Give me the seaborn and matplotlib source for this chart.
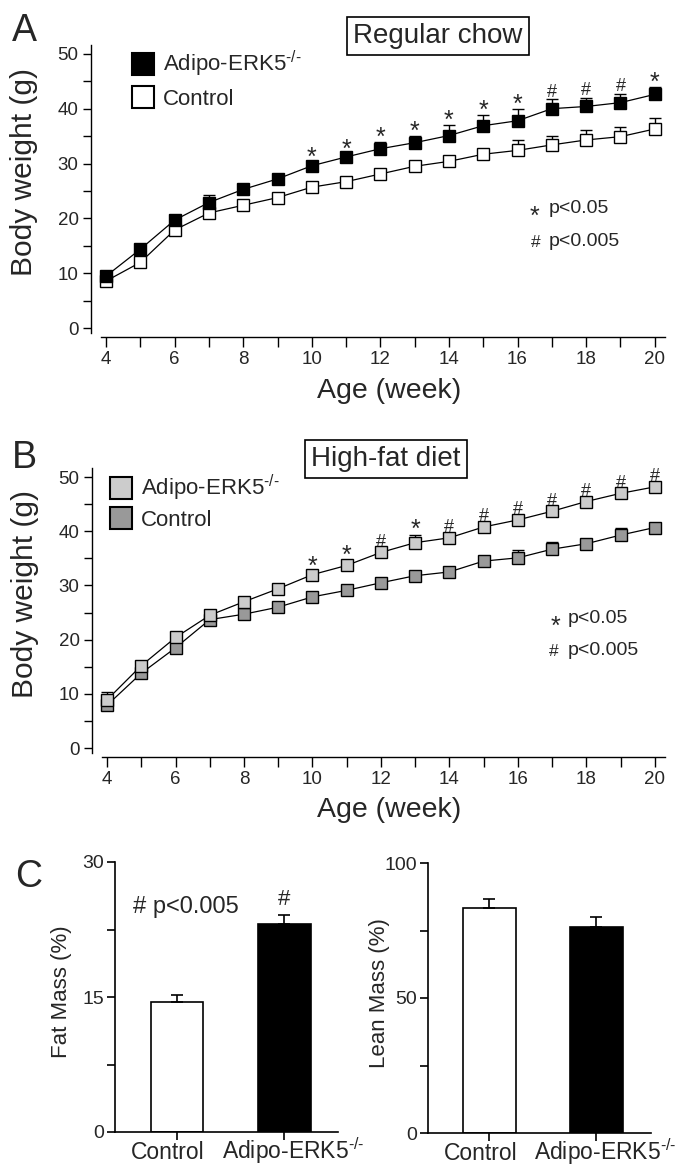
import numpy as np
import pandas as pd
import matplotlib
matplotlib.use("Agg")
import matplotlib.pyplot as plt
from matplotlib.lines import Line2D
from matplotlib.ticker import MultipleLocator
from matplotlib.transforms import ScaledTranslation
import seaborn as sns

# style: plain white, ticks out, Helvetica-like font
sns.set_style("ticks")
plt.rcParams['font.family'] = ['Liberation Sans', 'DejaVu Sans']
plt.rcParams['mathtext.fontset'] = 'custom'
plt.rcParams['mathtext.rm'] = 'Liberation Sans'
plt.rcParams['mathtext.it'] = 'Liberation Sans:italic'
plt.rcParams['mathtext.bf'] = 'Liberation Sans:bold'

# data
weeks = list(range(4, 21))

chow_ko = [9.5, 14.4, 19.7, 22.9, 25.3, 27.2, 29.6, 31.2, 32.7, 33.8, 35.1, 36.9, 37.8, 40.0, 40.4, 41.1, 42.6]
chow_ko_err = [0.3, 0.4, 0.4, 1.3, 0.4, 0.4, 0.6, 0.6, 1.3, 1.2, 2.0, 1.9, 2.2, 1.7, 1.5, 1.6, 1.4]
chow_ctrl = [8.6, 12.0, 17.9, 21.0, 22.4, 23.8, 25.7, 26.7, 28.1, 29.5, 30.4, 31.7, 32.4, 33.4, 34.3, 34.9, 36.3]
chow_ctrl_err = [0.3, 0.4, 0.4, 0.5, 0.4, 0.4, 0.4, 0.5, 0.5, 0.5, 0.5, 0.6, 1.9, 1.7, 1.9, 1.8, 2.0]
chow_sig = ['', '', '', '', '', '', '*', '*', '*', '*', '*', '*', '*', '#', '#', '#', '*']

hfd_ko = [8.9, 15.2, 20.4, 24.5, 27.0, 29.4, 32.0, 33.7, 36.1, 37.9, 38.8, 40.8, 42.1, 43.7, 45.5, 47.0, 48.2]
hfd_ko_err = [1.5, 0.5, 0.5, 0.4, 0.5, 0.4, 0.6, 1.0, 0.5, 1.5, 0.5, 0.5, 0.5, 0.5, 0.5, 0.5, 0.5]
hfd_ctrl = [7.9, 13.8, 18.5, 23.7, 24.7, 26.0, 27.9, 29.1, 30.5, 31.8, 32.5, 34.5, 35.1, 36.7, 37.7, 39.3, 40.7]
hfd_ctrl_err = [0.4, 0.4, 0.5, 0.5, 0.5, 0.5, 0.5, 0.5, 0.5, 0.5, 0.5, 0.5, 1.4, 1.3, 0.5, 1.4, 0.5]
hfd_sig = ['', '', '', '', '', '', '*', '*', '#', '*', '#', '#', '#', '#', '#', '#', '#']

groups = ['Control', 'Adipo-ERK5']
fat_mass = [14.4, 23.1]
fat_err = [0.8, 1.0]
lean_mass = [83.3, 76.2]
lean_err = [3.4, 3.8]

ko_label = r'Adipo-ERK5$^{\text{-/-}}$'

W, H = 681, 1166
fig = plt.figure(figsize=(W / 100, H / 100), dpi=100)


def px(x, y):
    # pixel position of the reference -> figure fraction
    return x / W, 1 - y / H


def pvalue_key(star_xy, hash_xy, text_x):
    # "* p<0.05" / "# p<0.005" key, positions are baselines in reference pixels
    fig.text(*px(star_xy[0], star_xy[1] + 11), '*', ha='left', va='baseline', fontsize=18)
    fig.text(*px(text_x, star_xy[1]), 'p<0.05', ha='left', va='baseline', fontsize=14)
    fig.text(*px(hash_xy[0], hash_xy[1]), '#', ha='left', va='baseline', fontsize=12.5)
    fig.text(*px(text_x, hash_xy[1] - 1), 'p<0.005', ha='left', va='baseline', fontsize=14)


def growth_panel(rect, ko, ko_err, ctrl, ctrl_err, sig, ko_face, ctrl_face):
    ax = fig.add_axes(rect)
    df = pd.DataFrame({'week': weeks, 'ko': ko, 'ctrl': ctrl})
    for col, err, face, z in [('ctrl', ctrl_err, ctrl_face, 3), ('ko', ko_err, ko_face, 4)]:
        ax.errorbar(weeks, df[col], yerr=[np.zeros(len(err)), err], fmt='none',
                    ecolor='black', elinewidth=1, capsize=4.5, capthick=1, zorder=z - 1)
        sns.lineplot(data=df, x='week', y=col, ax=ax, color='black', linewidth=0.9,
                     marker='s', markersize=8, markerfacecolor=face,
                     markeredgecolor='black', markeredgewidth=1, zorder=z)
    for w, v, e, s in zip(weeks, ko, ko_err, sig):
        if s == '*':
            ax.annotate(s, (w, v + e), xytext=(0, -2), textcoords='offset points',
                        ha='center', va='baseline', fontsize=18)
        elif s == '#':
            ax.annotate(s, (w, v + e), xytext=(0, 2), textcoords='offset points',
                        ha='center', va='baseline', fontsize=13)
    ax.set_xlim(3.56, 20.3)
    ax.set_ylim(-1.6, 51.6)
    ax.xaxis.set_minor_locator(MultipleLocator(1))
    ax.yaxis.set_minor_locator(MultipleLocator(5))
    ax.set_xticks([4, 6, 8, 10, 12, 14, 16, 18, 20])
    ax.set_yticks([0, 10, 20, 30, 40, 50])
    sns.despine(ax=ax)
    ax.spines['left'].set_bounds(-0.9, 51.6)
    ax.spines['bottom'].set_bounds(3.85, 20.3)
    for sp in ['left', 'bottom']:
        ax.spines[sp].set_linewidth(1)
        ax.spines[sp].set_color('black')
    ax.tick_params(which='both', direction='out', width=1, color='black', labelsize=13.5, pad=3)
    ax.tick_params(axis='y', which='both', length=6)
    ax.tick_params(axis='x', which='both', length=7)
    ax.set_xlabel('Age (week)', fontsize=20.5)
    ax.set_ylabel('Body weight (g)', fontsize=21.5)
    ax.xaxis.set_label_coords(0.519, -0.14)
    ax.yaxis.set_label_coords(-0.092, 0.565)
    ax.xaxis.label.set_va('top')
    handles = [Line2D([], [], marker='s', linestyle='none', markersize=16, markerfacecolor=ko_face,
                      markeredgecolor='black', markeredgewidth=1.5),
               Line2D([], [], marker='s', linestyle='none', markersize=16, markerfacecolor=ctrl_face,
                      markeredgecolor='black', markeredgewidth=1.5)]
    return ax, handles


# panel A, regular chow
ax_a, h_a = growth_panel([91 / W, 1 - 337 / H, 574 / W, 292 / H],
                         chow_ko, chow_ko_err, chow_ctrl, chow_ctrl_err, chow_sig, 'black', 'white')
ax_a.legend(h_a, [ko_label, 'Control'], loc='upper left', bbox_to_anchor=px(131, 49),
            bbox_transform=fig.transFigure, frameon=False, fontsize=16, handlelength=1.1,
            handletextpad=0.35, labelspacing=0.45, borderpad=0, borderaxespad=0)
fig.text(*px(438, 36), 'Regular chow', ha='center', va='center', fontsize=20,
         bbox=dict(boxstyle='square,pad=0.22', fc='white', ec='black', lw=1.2))
pvalue_key((530, 213), (531, 247), 549)
fig.text(*px(12, 13), 'A', ha='left', va='top', fontsize=27)

# panel B, high-fat diet
ax_b, h_b = growth_panel([92 / W, 1 - 757 / H, 573 / W, 288 / H],
                         hfd_ko, hfd_ko_err, hfd_ctrl, hfd_ctrl_err, hfd_sig, '#cccccc', '#999999')
ax_b.set_ylim(-1.66, 51.5)
ax_b.legend(h_b, [ko_label, 'Control'], loc='upper left', bbox_to_anchor=px(109, 473),
            bbox_transform=fig.transFigure, frameon=False, fontsize=16, handlelength=1.1,
            handletextpad=0.35, labelspacing=0.3, borderpad=0, borderaxespad=0)
fig.text(*px(386, 459), 'High-fat diet', ha='center', va='center', fontsize=20,
         bbox=dict(boxstyle='square,pad=0.22', fc='white', ec='black', lw=1.2))
pvalue_key((551, 623), (549, 656), 568)
fig.text(*px(12, 440), 'B', ha='left', va='top', fontsize=27)


# panel C, body composition bars
def bar_panel(rect, vals, errs, top, label, xlim, label_x):
    ax = fig.add_axes(rect)
    sns.barplot(x=groups, y=vals, hue=groups, palette=['white', 'black'], edgecolor='black',
                linewidth=1.2, width=0.49, errorbar=None, legend=False, ax=ax)
    ax.errorbar([0, 1], vals, yerr=[[0, 0], errs], fmt='none', ecolor='black',
                elinewidth=1.2, capsize=4, capthick=1.2, zorder=5)
    ax.set_xlim(*xlim)
    ax.set_ylim(0, top)
    ax.set_yticks([0, top / 2, top])
    ax.set_yticklabels([f'{t:g}' for t in [0, top / 2, top]])
    ax.yaxis.set_minor_locator(MultipleLocator(top / 4))
    ax.set_xticks([0, 1])
    ax.set_xticklabels(['Control', ko_label])
    sns.despine(ax=ax)
    for sp in ['left', 'bottom']:
        ax.spines[sp].set_linewidth(1.2)
        ax.spines[sp].set_color('black')
    ax.tick_params(which='both', direction='out', width=1.2, color='black', length=6)
    ax.tick_params(axis='y', labelsize=14, pad=2)
    ax.tick_params(axis='x', labelsize=16.5, pad=13.5)
    # labels sit a little apart from the tick marks, as in the original
    for lbl, dx in zip(ax.get_xticklabels(), [-6.5, 6.5]):
        lbl.set_va('baseline')
        lbl.set_transform(lbl.get_transform() + ScaledTranslation(dx / 72, 0, fig.dpi_scale_trans))
    ax.set_xlabel('')
    ax.set_ylabel(label, fontsize=16)
    ax.yaxis.set_label_coords(label_x, 0.52)
    return ax


ax_fat = bar_panel([115 / W, 1 - 1132 / H, 223 / W, 270 / H], fat_mass, fat_err, 30,
                   'Fat Mass (%)', (-0.577, 1.498), -0.191)
ax_fat.text(1, fat_mass[1] + fat_err[1] + 0.6, '#', ha='center', va='bottom', fontsize=16)
fig.text(*px(133, 907), '# p<0.005', ha='left', va='center', fontsize=17)
ax_lean = bar_panel([428 / W, 1 - 1133 / H, 223 / W, 270 / H], lean_mass, lean_err, 100,
                    'Lean Mass (%)', (-0.575, 1.51), -0.172)
fig.text(*px(15, 859), 'C', ha='left', va='top', fontsize=27)

fig.savefig('out.png', dpi=100)
